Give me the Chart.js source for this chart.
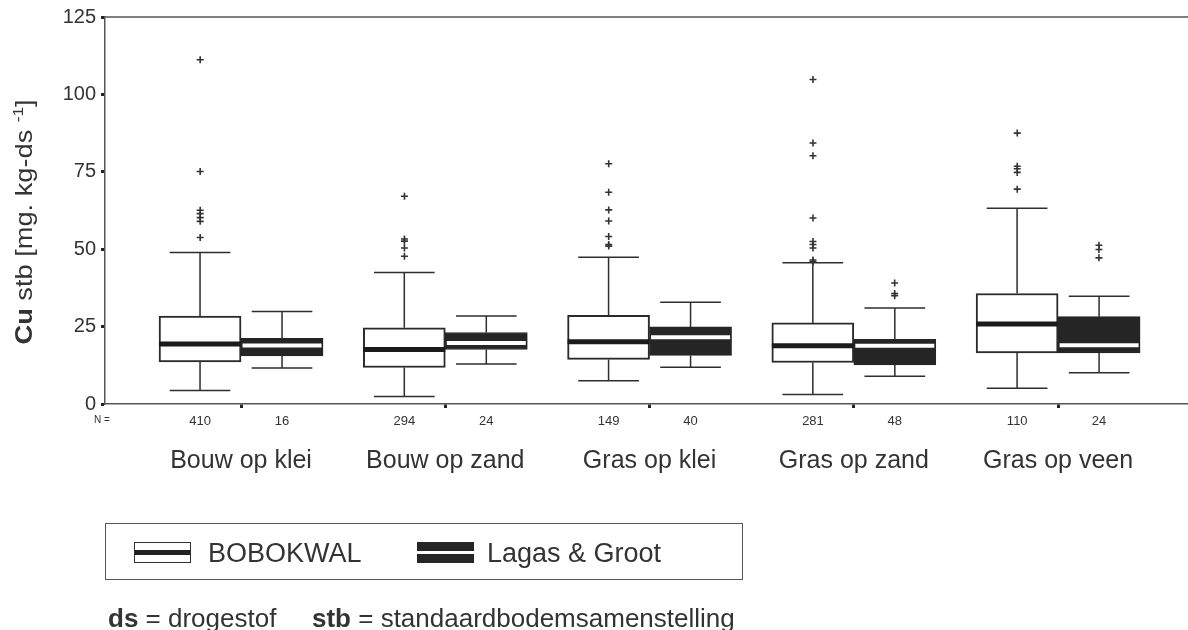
<!DOCTYPE html>
<html>
<head>
<meta charset="utf-8">
<script src="https://cdn.jsdelivr.net/npm/chart.js@4.4.1/dist/chart.umd.min.js"></script>
<style>
  html, body { margin: 0; padding: 0; background: #fff; }
  #wrap { position: relative; width: 1188px; height: 630px; overflow: hidden; font-family: 'Liberation Sans', Arial, sans-serif; color: #333; }
  #chartBox { position: absolute; left: 0; top: 0; width: 1188px; height: 630px; }
  .legend-box { position: absolute; left: 105px; top: 523px; width: 638px; height: 57px; border: 1.5px solid #555; box-sizing: border-box; }
  .sw { position: absolute; width: 57px; height: 21px; box-sizing: border-box; }
  .sw-bob { left: 134px; top: 542px; background: #fff; border: 1.5px solid #333; }
  .sw-bob::after { content: ''; position: absolute; left: 0; right: 0; top: 7px; height: 5px; background: #222; }
  .sw-lag { left: 417px; top: 542px; background: #262626; }
  .sw-lag::after { content: ''; position: absolute; left: 0; right: 0; top: 9px; height: 3px; background: #fff; }
  .lbl { position: absolute; top: 538px; font-size: 27px; line-height: 30px; white-space: nowrap; }
  .note { position: absolute; top: 603px; font-size: 26px; line-height: 30px; white-space: nowrap; }
</style>
</head>
<body>
<div id="wrap">
  <div id="chartBox"><canvas id="chart"></canvas></div>
  <div class="legend-box"></div>
  <div class="sw sw-bob"></div>
  <div class="lbl" style="left:208px">BOBOKWAL</div>
  <div class="sw sw-lag"></div>
  <div class="lbl" style="left:487px">Lagas &amp; Groot</div>
  <div class="note" style="left:108px"><b>ds</b> = drogestof</div>
  <div class="note" style="left:312px"><b>stb</b> = standaardbodemsamenstelling</div>
</div>
<script>
const FONT = "'Liberation Sans', Arial, sans-serif";

const categories = ['Bouw op klei', 'Bouw op zand', 'Gras op klei', 'Gras op zand', 'Gras op veen'];
const nBobokwal = [410, 294, 149, 281, 110];
const nLagas = [16, 24, 40, 48, 24];
const yTicks = [0, 25, 50, 75, 100, 125];

// BOBOKWAL boxes (mg/kg ds)
const bobLow = [4.4, 2.4, 7.5, 3.1, 5.1];
const bobQ1 = [13.6, 11.8, 14.4, 13.4, 16.5];
const bobMed = [19.4, 17.6, 20.1, 18.8, 25.8];
const bobQ3 = [28.4, 24.6, 28.6, 26.2, 35.7];
const bobHigh = [48.9, 42.5, 47.4, 45.6, 63.2];
const bobOutliers = [
  [111.2, 75.1, 62.6, 61.5, 60.2, 59.0, 53.8],
  [67.1, 53.3, 52.6, 50.4, 47.7],
  [77.6, 68.4, 62.7, 59.1, 54.1, 51.5, 51.0],
  [104.8, 84.3, 80.2, 60.1, 52.5, 51.5, 50.4, 46.5, 46.0],
  [87.5, 76.8, 76.0, 74.8, 69.4]
];

// Lagas & Groot boxes
const lagLow = [11.6, 12.9, 11.9, 9.0, 10.1];
const lagQ1 = [15.5, 17.6, 15.7, 12.6, 16.5];
const lagMed = [18.9, 19.7, 21.6, 18.8, 19.0];
const lagQ3 = [21.2, 23.1, 24.9, 20.9, 28.2];
const lagHigh = [29.9, 28.4, 32.9, 31.0, 34.8];
const lagOutliers = [[], [], [], [39.1, 35.7, 35.0], [51.3, 49.9, 47.2]];

// x axis: group i sits at value i+1
const X_MIN = 0.334, X_MAX = 5.636;
const SHIFT = 0.2;

const boxStats = [
  { low: bobLow, q1: bobQ1, med: bobMed, q3: bobQ3, high: bobHigh, medColor: '#1b1b1b', medWidth: 5, inset: 0 },
  { low: lagLow, q1: lagQ1, med: lagMed, q3: lagQ3, high: lagHigh, medColor: '#ffffff', medWidth: 4, inset: 1.5 }
];

const xTicks = [{ value: X_MIN - 0.015, text: 'N =' }];
categories.forEach((c, i) => {
  xTicks.push({ value: i + 1 - SHIFT, text: String(nBobokwal[i]) });
  xTicks.push({ value: i + 1, text: '', mark: true });
  xTicks.push({ value: i + 1 + SHIFT, text: String(nLagas[i]) });
});

const boxPlugin = {
  id: 'boxExtras',
  beforeDatasetsDraw(chart) {
    const ctx = chart.ctx, y = chart.scales.y;
    ctx.save();
    ctx.strokeStyle = '#2e2e2e';
    ctx.lineWidth = 1.5;
    boxStats.forEach((s, d) => {
      chart.getDatasetMeta(d).data.forEach((bar, i) => {
        const cap = bar.width * 0.37;
        const yHi = y.getPixelForValue(s.high[i]), yQ3 = y.getPixelForValue(s.q3[i]);
        const yLo = y.getPixelForValue(s.low[i]), yQ1 = y.getPixelForValue(s.q1[i]);
        ctx.beginPath();
        ctx.moveTo(bar.x, yQ3); ctx.lineTo(bar.x, yHi);
        ctx.moveTo(bar.x - cap, yHi); ctx.lineTo(bar.x + cap, yHi);
        ctx.moveTo(bar.x, yQ1); ctx.lineTo(bar.x, yLo);
        ctx.moveTo(bar.x - cap, yLo); ctx.lineTo(bar.x + cap, yLo);
        ctx.stroke();
      });
    });
    ctx.restore();
  },
  afterDatasetsDraw(chart) {
    const ctx = chart.ctx, y = chart.scales.y, area = chart.chartArea;
    ctx.save();
    boxStats.forEach((s, d) => {
      chart.getDatasetMeta(d).data.forEach((bar, i) => {
        const ym = y.getPixelForValue(s.med[i]);
        ctx.strokeStyle = s.medColor;
        ctx.lineWidth = s.medWidth;
        ctx.beginPath();
        ctx.moveTo(bar.x - bar.width / 2 + s.inset, ym);
        ctx.lineTo(bar.x + bar.width / 2 - s.inset, ym);
        ctx.stroke();
      });
    });
    // top frame line
    ctx.strokeStyle = '#555';
    ctx.lineWidth = 1.5;
    ctx.beginPath();
    ctx.moveTo(area.left, area.top);
    ctx.lineTo(area.right, area.top);
    ctx.stroke();
    ctx.restore();
  },
  afterDraw(chart) {
    // y axis title with bold symbol and superscript
    const ctx = chart.ctx;
    const parts = [
      { t: 'Cu', f: 'bold 24px ' + FONT, dy: 0 },
      { t: ' stb [mg. kg-ds ', f: '24px ' + FONT, dy: 0 },
      { t: '-1', f: '15px ' + FONT, dy: -9 },
      { t: ']', f: '24px ' + FONT, dy: 0 }
    ];
    ctx.save();
    let total = 0;
    parts.forEach(p => { ctx.font = p.f; p.w = ctx.measureText(p.t).width; total += p.w; });
    ctx.translate(32, 222);
    ctx.rotate(-Math.PI / 2);
    ctx.scale(245 / total, 1);
    ctx.fillStyle = '#333';
    ctx.textBaseline = 'alphabetic';
    let x = -total / 2;
    parts.forEach(p => { ctx.font = p.f; ctx.fillText(p.t, x, p.dy); x += p.w; });
    ctx.restore();
  }
};

new Chart(document.getElementById('chart'), {
  type: 'bar',
  data: {
    datasets: [
      {
        label: 'BOBOKWAL',
        data: categories.map((c, i) => ({ x: i + 1, y: [bobQ1[i], bobQ3[i]] })),
        backgroundColor: '#ffffff', borderColor: '#2a2a2a', borderWidth: 2, borderSkipped: false
      },
      {
        label: 'Lagas & Groot',
        data: categories.map((c, i) => ({ x: i + 1, y: [lagQ1[i], lagQ3[i]] })),
        backgroundColor: '#252525', borderColor: '#252525', borderWidth: 1, borderSkipped: false
      },
      {
        type: 'scatter', label: 'BOBOKWAL uitschieters',
        data: bobOutliers.flatMap((arr, i) => arr.map(v => ({ x: i + 1 - SHIFT, y: v }))),
        pointStyle: 'cross', radius: 3.5, borderWidth: 1.6, borderColor: '#333', backgroundColor: '#333'
      },
      {
        type: 'scatter', label: 'Lagas & Groot uitschieters',
        data: lagOutliers.flatMap((arr, i) => arr.map(v => ({ x: i + 1 + SHIFT, y: v }))),
        pointStyle: 'cross', radius: 3.5, borderWidth: 1.6, borderColor: '#333', backgroundColor: '#333'
      }
    ]
  },
  options: {
    responsive: true, maintainAspectRatio: false, animation: false, events: [],
    barThickness: 82,
    layout: { autoPadding: false, padding: { top: 16, bottom: 151, left: 0, right: 0 } },
    plugins: { legend: { display: false }, tooltip: { enabled: false } },
    scales: {
      x: {
        type: 'linear', position: 'bottom', min: X_MIN, max: X_MAX, offset: false, weight: 0,
        afterBuildTicks: s => { s.ticks = xTicks.map(t => Object.assign({}, t)); },
        afterFit: s => { s.height = 30; },
        border: { color: '#555', width: 1.5 },
        grid: {
          offset: false, drawOnChartArea: false, drawTicks: true, tickLength: 4, tickWidth: 3,
          tickColor: c => (c.tick && c.tick.mark) ? '#222' : 'rgba(0,0,0,0)'
        },
        ticks: {
          autoSkip: false, maxRotation: 0, color: '#333', padding: 6,
          font: c => ({ family: FONT, size: (c.tick && c.tick.text === 'N =') ? 10 : 13 }),
          callback: (v, i, t) => t[i].text
        }
      },
      x2: {
        type: 'linear', position: 'bottom', min: X_MIN, max: X_MAX, offset: false, weight: 1,
        afterBuildTicks: s => { s.ticks = categories.map((c, i) => ({ value: i + 1 })); },
        afterFit: s => { s.height = 45; },
        border: { display: false },
        grid: { display: false, drawTicks: false },
        ticks: {
          autoSkip: false, maxRotation: 0, color: '#333', padding: 12,
          font: { family: FONT, size: 25 },
          callback: (v, i) => categories[i]
        }
      },
      y: {
        min: 0, max: 125,
        afterBuildTicks: s => { s.ticks = yTicks.map(v => ({ value: v })); },
        afterFit: s => { s.width = 105; },
        border: { color: '#555', width: 1.5 },
        grid: { drawOnChartArea: false, drawTicks: true, tickLength: 4, tickWidth: 3, tickColor: '#222' },
        ticks: { color: '#333', padding: 5, font: { family: FONT, size: 20 } }
      }
    }
  },
  plugins: [boxPlugin]
});
</script>
</body>
</html>
